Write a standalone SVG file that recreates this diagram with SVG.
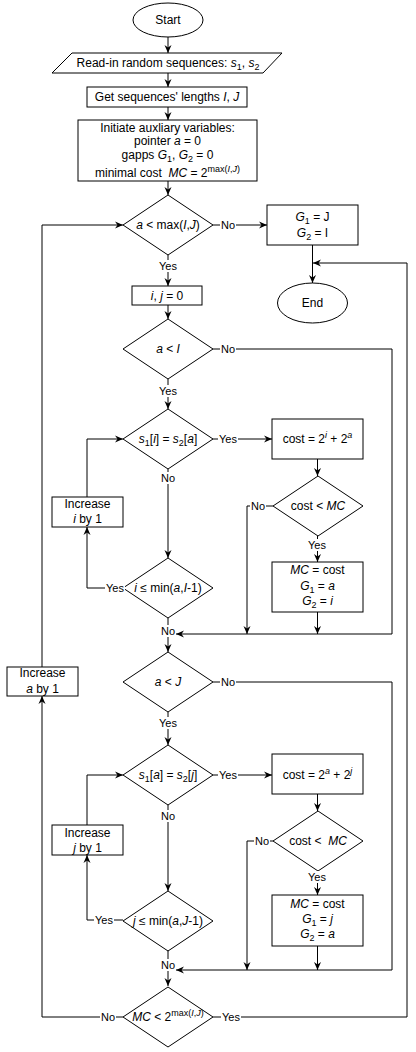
<svg xmlns="http://www.w3.org/2000/svg" width="416" height="1052" viewBox="0 0 416 1052">
<style>
text{font-family:"Liberation Sans",Arial,sans-serif;font-size:12px;fill:#000;text-anchor:middle}
.shape{fill:#fff;stroke:#000;stroke-width:1}
.edge{fill:none;stroke:#000;stroke-width:1}
.lbl text{font-size:11px}
.lbl rect{fill:#fff;stroke:none}
.i{font-style:italic}
.sub{font-size:9px;baseline-shift:-3px}
.sup{font-size:9px;baseline-shift:5px}
</style>
<defs>
<marker id="arr" markerUnits="userSpaceOnUse" markerWidth="9" markerHeight="8" refX="8" refY="4" orient="auto">
<path d="M0,0.5 L8,4 L0,7.5 L2.5,4 Z" fill="#000"/>
</marker>
</defs>
<rect width="416" height="1052" fill="#fff"/>

<g id="connectors">
<path class="edge" d="M168,37 V53" marker-end="url(#arr)"/>
<path class="edge" d="M168,73 V87" marker-end="url(#arr)"/>
<path class="edge" d="M168,107 V120" marker-end="url(#arr)"/>
<path class="edge" d="M168,181 V195" marker-end="url(#arr)"/>
<path class="edge" d="M213,225 H267" marker-end="url(#arr)"/>
<path class="edge" d="M312.5,245 V283" marker-end="url(#arr)"/>
<path class="edge" d="M168,255 V286" marker-end="url(#arr)"/>
<path class="edge" d="M168,305 V319" marker-end="url(#arr)"/>
<path class="edge" d="M168,379 V409" marker-end="url(#arr)"/>
<path class="edge" d="M213,349 H392 V634 H176" marker-end="url(#arr)"/>
<path class="edge" d="M213,439 H272" marker-end="url(#arr)"/>
<path class="edge" d="M168,469 V558" marker-end="url(#arr)"/>
<path class="edge" d="M317.5,459 V476" marker-end="url(#arr)"/>
<path class="edge" d="M317.5,536 V562" marker-end="url(#arr)"/>
<path class="edge" d="M273,506 H247 V634" marker-end="url(#arr)"/>
<path class="edge" d="M317.5,612 V634" marker-end="url(#arr)"/>
<path class="edge" d="M123,588 H87 V527" marker-end="url(#arr)"/>
<path class="edge" d="M87,497 V439 H123" marker-end="url(#arr)"/>
<path class="edge" d="M168,618 V652" marker-end="url(#arr)"/>
<path class="edge" d="M213,682 H392 V970 H176" marker-end="url(#arr)"/>
<path class="edge" d="M168,712 V745" marker-end="url(#arr)"/>
<path class="edge" d="M213,775 H272" marker-end="url(#arr)"/>
<path class="edge" d="M168,805 V891" marker-end="url(#arr)"/>
<path class="edge" d="M317.5,794 V811" marker-end="url(#arr)"/>
<path class="edge" d="M317.5,871 V895" marker-end="url(#arr)"/>
<path class="edge" d="M273,841 H247 V970" marker-end="url(#arr)"/>
<path class="edge" d="M317.5,946 V970" marker-end="url(#arr)"/>
<path class="edge" d="M123,920 H87 V855" marker-end="url(#arr)"/>
<path class="edge" d="M87,825 V775 H123" marker-end="url(#arr)"/>
<path class="edge" d="M168,950 V986" marker-end="url(#arr)"/>
<path class="edge" d="M123,1017 H42 V696" marker-end="url(#arr)"/>
<path class="edge" d="M42,667 V225 H123" marker-end="url(#arr)"/>
<path class="edge" d="M213,1017 H407 V263 H313" marker-end="url(#arr)"/>
</g>

<g id="start"><ellipse class="shape" cx="168" cy="20" rx="35" ry="17"/><text x="168" y="24">Start</text></g>
<g id="read"><polygon class="shape" points="72,53 282,53 263,73 52,73"/><text x="168" y="67">Read-in random sequences: <tspan class="i">s</tspan><tspan class="sub">1</tspan>, <tspan class="i">s</tspan><tspan class="sub">2</tspan></text></g>
<g id="getlen"><rect class="shape" x="87" y="87" width="160" height="20"/><text x="167" y="101">Get sequences' lengths <tspan class="i">I</tspan>, <tspan class="i">J</tspan></text></g>
<g id="init"><rect class="shape" x="78" y="120" width="179" height="61"/>
<text x="167.5" y="132">Initiate auxliary variables:</text>
<text x="167.5" y="145">pointer <tspan class="i">a</tspan> = 0</text>
<text x="167.5" y="159">gapps <tspan class="i">G</tspan><tspan class="sub">1</tspan>, <tspan class="i">G</tspan><tspan class="sub">2</tspan> = 0</text>
<text x="167.5" y="177" xml:space="preserve">minimal cost  <tspan class="i">MC</tspan> = 2<tspan class="sup">max(<tspan class="i">I</tspan>,<tspan class="i">J</tspan>)</tspan></text>
</g>
<g id="d1"><polygon class="shape" points="168,195 213,225 168,255 123,225"/><text x="168" y="229"><tspan class="i">a</tspan> &lt; max(<tspan class="i">I</tspan>,<tspan class="i">J</tspan>)</text></g>
<g id="gset"><rect class="shape" x="267" y="205" width="91" height="40"/>
<text x="312.5" y="221"><tspan class="i">G</tspan><tspan class="sub">1</tspan> = J</text>
<text x="312.5" y="237"><tspan class="i">G</tspan><tspan class="sub">2</tspan> = I</text></g>
<g id="end"><ellipse class="shape" cx="312.5" cy="303" rx="35" ry="20"/><text x="312.5" y="307">End</text></g>
<g id="ij"><rect class="shape" x="132" y="286" width="70" height="19"/><text x="167" y="300"><tspan class="i">i</tspan>, <tspan class="i">j</tspan> = 0</text></g>
<g id="d2"><polygon class="shape" points="168,319 213,349 168,379 123,349"/><text x="168" y="353"><tspan class="i">a</tspan> &lt; <tspan class="i">I</tspan></text></g>
<g id="d3"><polygon class="shape" points="168,409 213,439 168,469 123,439"/><text x="168" y="443"><tspan class="i">s</tspan><tspan class="sub">1</tspan>[<tspan class="i">i</tspan>] = <tspan class="i">s</tspan><tspan class="sub">2</tspan>[<tspan class="i">a</tspan>]</text></g>
<g id="cost1"><rect class="shape" x="272" y="419" width="91" height="40"/><text x="317.5" y="443">cost = 2<tspan class="sup i">i</tspan> + 2<tspan class="sup i">a</tspan></text></g>
<g id="d4"><polygon class="shape" points="318,476 363,506 318,536 273,506"/><text x="318" y="510">cost &lt; <tspan class="i">MC</tspan></text></g>
<g id="mc1"><rect class="shape" x="272" y="562" width="91" height="50"/>
<text x="317.5" y="574"><tspan class="i">MC</tspan> = cost</text>
<text x="317.5" y="590"><tspan class="i">G</tspan><tspan class="sub">1</tspan> = <tspan class="i">a</tspan></text>
<text x="317.5" y="605"><tspan class="i">G</tspan><tspan class="sub">2</tspan> = <tspan class="i">i</tspan></text></g>
<g id="inci"><rect class="shape" x="52" y="497" width="71" height="30"/>
<text x="87.5" y="508">Increase</text><text x="87.5" y="523"><tspan class="i">i</tspan> by 1</text></g>
<g id="d5"><polygon class="shape" points="168,558 213,588 168,618 123,588"/><text x="168" y="592"><tspan class="i">i</tspan> ≤ min(<tspan class="i">a</tspan>,<tspan class="i">I</tspan>-1)</text></g>
<g id="d6"><polygon class="shape" points="168,652 213,682 168,712 123,682"/><text x="168" y="686"><tspan class="i">a</tspan> &lt; <tspan class="i">J</tspan></text></g>
<g id="inca"><rect class="shape" x="7" y="667" width="71" height="29"/>
<text x="42.5" y="677">Increase</text><text x="42.5" y="693"><tspan class="i">a</tspan> by 1</text></g>
<g id="d7"><polygon class="shape" points="168,745 213,775 168,805 123,775"/><text x="168" y="779"><tspan class="i">s</tspan><tspan class="sub">1</tspan>[<tspan class="i">a</tspan>] = <tspan class="i">s</tspan><tspan class="sub">2</tspan>[<tspan class="i">j</tspan>]</text></g>
<g id="cost2"><rect class="shape" x="272" y="754" width="91" height="40"/><text x="317.5" y="779">cost = 2<tspan class="sup i">a</tspan> + 2<tspan class="sup i">j</tspan></text></g>
<g id="d8"><polygon class="shape" points="318,811 363,841 318,871 273,841"/><text x="318" y="845" xml:space="preserve">cost &lt;  <tspan class="i">MC</tspan></text></g>
<g id="mc2"><rect class="shape" x="272" y="895" width="91" height="51"/>
<text x="317.5" y="908"><tspan class="i">MC</tspan> = cost</text>
<text x="317.5" y="923"><tspan class="i">G</tspan><tspan class="sub">1</tspan> = <tspan class="i">j</tspan></text>
<text x="317.5" y="938"><tspan class="i">G</tspan><tspan class="sub">2</tspan> = <tspan class="i">a</tspan></text></g>
<g id="incj"><rect class="shape" x="52" y="825" width="71" height="30"/>
<text x="87.5" y="837">Increase</text><text x="87.5" y="852"><tspan class="i">j</tspan> by 1</text></g>
<g id="d9"><polygon class="shape" points="168,891 213,921 168,951 123,921"/><text x="168" y="925"><tspan class="i">j</tspan> ≤ min(<tspan class="i">a</tspan>,<tspan class="i">J</tspan>-1)</text></g>
<g id="d10"><polygon class="shape" points="168,987 213,1017 168,1047 123,1017"/><text x="168" y="1021"><tspan class="i">MC</tspan> &lt; 2<tspan class="sup">max(<tspan class="i">I</tspan>,<tspan class="i">J</tspan>)</tspan></text></g>

<g id="labels">
<g class="lbl"><rect x="220" y="219" width="16" height="12"/><text x="228" y="229">No</text></g>
<g class="lbl"><rect x="158" y="260" width="20" height="12"/><text x="168" y="270">Yes</text></g>
<g class="lbl"><rect x="220" y="343" width="16" height="12"/><text x="228" y="353">No</text></g>
<g class="lbl"><rect x="158" y="385" width="20" height="12"/><text x="168" y="395">Yes</text></g>
<g class="lbl"><rect x="218" y="433" width="20" height="12"/><text x="228" y="443">Yes</text></g>
<g class="lbl"><rect x="160" y="472" width="16" height="12"/><text x="168" y="482">No</text></g>
<g class="lbl"><rect x="250" y="500" width="16" height="12"/><text x="258" y="510">No</text></g>
<g class="lbl"><rect x="307" y="539" width="20" height="12"/><text x="317" y="549">Yes</text></g>
<g class="lbl"><rect x="105" y="582" width="20" height="12"/><text x="115" y="592">Yes</text></g>
<g class="lbl"><rect x="160" y="625" width="16" height="12"/><text x="168" y="635">No</text></g>
<g class="lbl"><rect x="220" y="676" width="16" height="12"/><text x="228" y="686">No</text></g>
<g class="lbl"><rect x="158" y="717" width="20" height="12"/><text x="168" y="727">Yes</text></g>
<g class="lbl"><rect x="218" y="769" width="20" height="12"/><text x="228" y="779">Yes</text></g>
<g class="lbl"><rect x="160" y="810" width="16" height="12"/><text x="168" y="820">No</text></g>
<g class="lbl"><rect x="254" y="835" width="16" height="12"/><text x="262" y="845">No</text></g>
<g class="lbl"><rect x="307" y="871" width="20" height="12"/><text x="317" y="881">Yes</text></g>
<g class="lbl"><rect x="94" y="914" width="20" height="12"/><text x="104" y="924">Yes</text></g>
<g class="lbl"><rect x="160" y="959" width="16" height="12"/><text x="168" y="969">No</text></g>
<g class="lbl"><rect x="100" y="1011" width="16" height="12"/><text x="108" y="1021">No</text></g>
<g class="lbl"><rect x="221" y="1011" width="20" height="12"/><text x="231" y="1021">Yes</text></g>
</g>
</svg>
